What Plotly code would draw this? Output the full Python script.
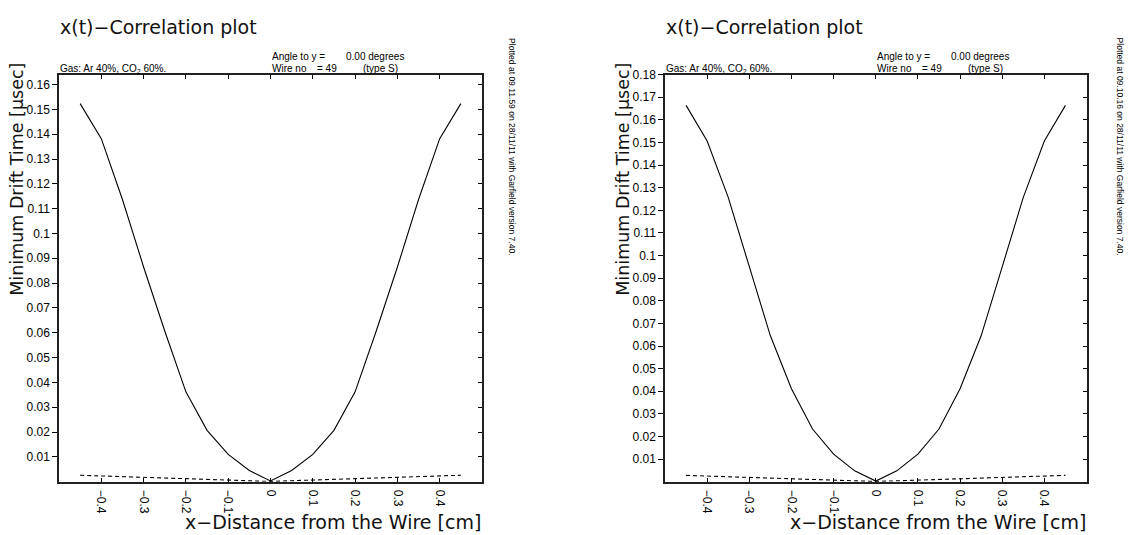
import plotly.graph_objects as go

# ---------------- data ----------------
x_dist = [-0.45, -0.40, -0.35, -0.30, -0.25, -0.20, -0.15, -0.10, -0.05, 0.00,
          0.05, 0.10, 0.15, 0.20, 0.25, 0.30, 0.35, 0.40, 0.45]

left_min_time = [0.1523, 0.1382, 0.1137, 0.0865, 0.0607, 0.0362, 0.0207, 0.0110, 0.0045, 0.0003,
                 0.0045, 0.0110, 0.0207, 0.0362, 0.0607, 0.0865, 0.1137, 0.1382, 0.1523]
left_spread = [0.0026, 0.0023, 0.0021, 0.0018, 0.0015, 0.0013, 0.0010, 0.0007, 0.0004, 0.0001,
               0.0004, 0.0007, 0.0010, 0.0013, 0.0015, 0.0018, 0.0021, 0.0023, 0.0026]

right_min_time = [0.1664, 0.1506, 0.1257, 0.0950, 0.0645, 0.0411, 0.0233, 0.0122, 0.0048, 0.0003,
                  0.0048, 0.0122, 0.0233, 0.0411, 0.0645, 0.0950, 0.1257, 0.1506, 0.1664]
right_spread = [0.0028, 0.0025, 0.0022, 0.0019, 0.0016, 0.0013, 0.0010, 0.0007, 0.0004, 0.0001,
                0.0004, 0.0007, 0.0010, 0.0013, 0.0016, 0.0019, 0.0022, 0.0025, 0.0028]

x_ticks = [-0.4, -0.3, -0.2, -0.1, 0.0, 0.1, 0.2, 0.3, 0.4]
x_tick_labels = ["\u22120.4", "\u22120.3", "\u22120.2", "\u22120.1", "0", "0.1", "0.2", "0.3", "0.4"]

left_y_ticks = [0.01, 0.02, 0.03, 0.04, 0.05, 0.06, 0.07, 0.08, 0.09, 0.10,
                0.11, 0.12, 0.13, 0.14, 0.15, 0.16]
left_y_labels = ["0.01", "0.02", "0.03", "0.04", "0.05", "0.06", "0.07", "0.08", "0.09", "0.1",
                 "0.11", "0.12", "0.13", "0.14", "0.15", "0.16"]
right_y_ticks = left_y_ticks + [0.17, 0.18]
right_y_labels = left_y_labels + ["0.17", "0.18"]

x_range = [-0.5, 0.5]
left_y_range = [0.0, 0.164]
right_y_range = [0.0, 0.180]

left_stamp = "Plotted at 09.11.59 on 28/11/11 with Garfield version 7.40."
right_stamp = "Plotted at 09.10.16 on 28/11/11 with Garfield version 7.40."

# ---------------- layout helpers ----------------
W, H = 1130, 535


def px(x):
    return x / W


def py(y):
    return 1 - y / H


TITLE_FONT = dict(family="DejaVu Sans", size=19, color="#111111")
YTITLE_FONT = dict(family="DejaVu Sans", size=17.5, color="#111111")
TICK_FONT = dict(family="Liberation Sans", size=12, color="black")
SMALL_FONT = dict(family="Liberation Sans", size=10, color="black")
STAMP_FONT = dict(family="Liberation Sans", size=8.5, color="black")

y_dom = [py(481), py(68.5)]
panels = [
    dict(x0=59, x1=482, zero=270.5, y=left_min_time, s=left_spread, yr=left_y_range,
         yt=left_y_ticks, yl=left_y_labels, stamp=left_stamp, stamp_x=512),
    dict(x0=665, x1=1086.5, zero=875.8, y=right_min_time, s=right_spread, yr=right_y_range,
         yt=right_y_ticks, yl=right_y_labels, stamp=right_stamp, stamp_x=1120),
]

fig = go.Figure()
layout = dict(width=W, height=H, autosize=False,
              margin=dict(l=0, r=0, t=0, b=0, pad=0),
              paper_bgcolor="white", plot_bgcolor="white",
              showlegend=False, hovermode=False)
annotations = []

for i, p in enumerate(panels):
    xa = "x" if i == 0 else "x2"
    ya = "y" if i == 0 else "y2"
    xo = "x3" if i == 0 else "x4"
    yo = "y3" if i == 0 else "y4"
    kx = "xaxis" if i == 0 else "xaxis2"
    ky = "yaxis" if i == 0 else "yaxis2"
    kxo = "xaxis3" if i == 0 else "xaxis4"
    kyo = "yaxis3" if i == 0 else "yaxis4"

    fig.add_trace(go.Scatter(x=x_dist, y=p["y"], mode="lines", xaxis=xa, yaxis=ya,
                             line=dict(color="black", width=1.1)))
    fig.add_trace(go.Scatter(x=x_dist, y=p["s"], mode="lines", xaxis=xa, yaxis=ya,
                             line=dict(color="black", width=1.1, dash="4px,3px")))
    # empty trace so the mirrored tick axes are drawn
    fig.add_trace(go.Scatter(x=[], y=[], mode="lines", xaxis=xo, yaxis=yo))

    dom_x = [px(p["x0"]), px(p["x1"])]
    layout[kx] = dict(domain=dom_x, range=x_range, anchor=ya, tickmode="array",
                      tickvals=x_ticks, ticktext=x_tick_labels, ticks="inside", ticklen=4,
                      tickwidth=1, tickcolor="black", tickangle=90, tickfont=TICK_FONT,
                      showline=True, linecolor="#222222", linewidth=1.5, mirror=True,
                      showgrid=False, zeroline=False, ticklabelstandoff=4)
    layout[kxo] = dict(domain=dom_x, range=x_range, anchor=ya, overlaying=xa, side="top",
                       tickmode="array", tickvals=x_ticks, ticks="inside", ticklen=4,
                       tickwidth=1, tickcolor="black", showticklabels=False,
                       showline=False, showgrid=False, zeroline=False)
    layout[ky] = dict(domain=y_dom, range=p["yr"], anchor=xa, tickmode="array",
                      tickvals=p["yt"], ticktext=p["yl"], ticks="outside", ticklen=5,
                      tickwidth=1, tickcolor="black", tickfont=TICK_FONT,
                      showline=True, linecolor="#222222", linewidth=1.5, mirror=True,
                      showgrid=False, zeroline=False, ticklabelstandoff=0)
    layout[kyo] = dict(domain=y_dom, range=p["yr"], anchor=xa, overlaying=ya, side="right",
                       tickmode="array", tickvals=p["yt"], ticks="inside", ticklen=4,
                       tickwidth=1, tickcolor="black", showticklabels=False,
                       showline=False, showgrid=False, zeroline=False)

    x0 = p["x0"]
    z = p["zero"]
    annotations += [
        dict(text="x(t)\u2212Correlation plot", x=px(x0), y=py(20), xanchor="left",
             yanchor="middle", font=TITLE_FONT),
        dict(text="Gas: Ar 40%, CO<sub>2</sub> 60%.", x=px(x0), y=py(63), xanchor="left",
             yanchor="middle", font=SMALL_FONT),
        dict(text="Angle to y =", x=px(z), y=py(50), xanchor="left", yanchor="middle",
             font=SMALL_FONT),
        dict(text="0.00 degrees", x=px(z + 74), y=py(50), xanchor="left", yanchor="middle",
             font=SMALL_FONT),
        dict(text="Wire no", x=px(z), y=py(62), xanchor="left", yanchor="middle", font=SMALL_FONT),
        dict(text="= 49", x=px(z + 45), y=py(62), xanchor="left", yanchor="middle", font=SMALL_FONT),
        dict(text="(type S)", x=px(z + 91), y=py(62), xanchor="left", yanchor="middle", font=SMALL_FONT),
        dict(text="Minimum Drift Time [\u03bcsec]", x=px(x0 - 42), y=py(56), textangle=-90,
             xanchor="center", yanchor="top", font=YTITLE_FONT),
        dict(text="x\u2212Distance from the Wire [cm]", x=px(p["x1"]), y=py(522),
             xanchor="right", yanchor="middle", font=TITLE_FONT),
        dict(text=p["stamp"], x=px(p["stamp_x"]), y=py(30), textangle=90,
             xanchor="center", yanchor="top", font=STAMP_FONT),
    ]

for a in annotations:
    a.update(xref="paper", yref="paper", showarrow=False, borderpad=0)
layout["annotations"] = annotations
fig.update_layout(**layout)

fig.write_html("out.html")
